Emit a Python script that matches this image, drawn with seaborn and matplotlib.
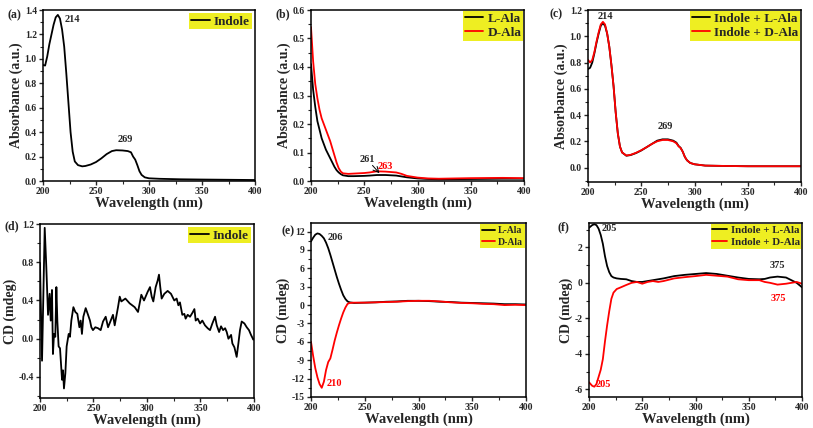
import matplotlib
matplotlib.use("Agg")
import matplotlib.pyplot as plt
import seaborn as sns
from matplotlib.ticker import MultipleLocator, FormatStrFormatter

# ---- data ----
# (a) UV-vis indole
a_wl = [200, 202, 204, 206, 208, 210, 212, 214, 216, 218, 220, 222, 224, 226, 228, 230, 233, 237,
        240, 245, 250, 255, 260, 265, 269, 275, 280, 283, 285, 287, 289, 291, 293, 296, 300, 310,
        330, 350, 375, 400]
a_abs = [0.95, 0.945, 1.02, 1.12, 1.2, 1.28, 1.34, 1.36, 1.33, 1.24, 1.1, 0.88, 0.64, 0.4, 0.24,
         0.16, 0.13, 0.12, 0.123, 0.135, 0.155, 0.185, 0.22, 0.245, 0.252, 0.25, 0.245, 0.235, 0.2,
         0.175, 0.13, 0.08, 0.05, 0.03, 0.022, 0.018, 0.014, 0.012, 0.01, 0.008]

# (b) UV-vis L-Ala / D-Ala
b_wl = [200, 202, 204, 206, 208, 210, 212, 214, 216, 218, 220, 222, 224, 226, 228, 230, 235, 240,
        250, 255, 262, 270, 280, 285, 290, 300, 310, 320, 350, 380, 400]
b_L = [0.41, 0.32, 0.26, 0.21, 0.18, 0.15, 0.13, 0.11, 0.095, 0.08, 0.065, 0.05, 0.038, 0.03, 0.024,
       0.02, 0.017, 0.017, 0.018, 0.019, 0.021, 0.021, 0.019, 0.016, 0.013, 0.009, 0.007, 0.006,
       0.007, 0.008, 0.008]
b_D = [0.54, 0.42, 0.34, 0.29, 0.25, 0.22, 0.2, 0.18, 0.16, 0.14, 0.115, 0.09, 0.065, 0.045, 0.033,
       0.027, 0.025, 0.026, 0.028, 0.03, 0.034, 0.033, 0.03, 0.025, 0.018, 0.012, 0.009, 0.008,
       0.01, 0.011, 0.01]

# (c) UV-vis indole + L-Ala / D-Ala
c_wl = [200, 202, 204, 206, 208, 210, 212, 214, 216, 218, 220, 222, 224, 226, 228, 230, 232, 236,
        240, 245, 250, 255, 260, 265, 270, 275, 280, 283, 285, 287, 289, 291, 293, 296, 300, 310,
        330, 350, 375, 400]
c_L = [0.75, 0.76, 0.8, 0.87, 0.95, 1.02, 1.08, 1.1, 1.08, 1.02, 0.92, 0.78, 0.62, 0.42, 0.26, 0.16,
       0.115, 0.09, 0.095, 0.11, 0.13, 0.155, 0.18, 0.205, 0.215, 0.215, 0.205, 0.19, 0.165, 0.15,
       0.12, 0.08, 0.055, 0.035, 0.025, 0.015, 0.012, 0.01, 0.01, 0.01]
c_D = [0.82, 0.8, 0.82, 0.88, 0.96, 1.03, 1.09, 1.11, 1.09, 1.02, 0.92, 0.78, 0.62, 0.42, 0.26, 0.16,
       0.115, 0.092, 0.097, 0.112, 0.132, 0.155, 0.18, 0.2, 0.21, 0.21, 0.2, 0.185, 0.162, 0.148,
       0.12, 0.08, 0.055, 0.035, 0.025, 0.015, 0.012, 0.01, 0.01, 0.01]

# (d) CD indole (noisy)
d_wl = [200.0, 200.6, 201.9, 204.4, 205.9, 207.5, 209.0, 210.0, 211.2, 212.1, 213.1, 214.3, 215.3,
        216.2, 217.4, 218.7, 220.6, 221.5, 222.4, 223.7, 224.9, 226.8, 228.0, 229.3, 231.2, 233.0,
        234.9, 236.8, 238.0, 239.2, 240.5, 242.7, 244.9, 246.7, 248.0, 249.5, 251.7, 254.2, 256.7,
        258.9, 261.4, 263.6, 266.1, 268.2, 269.8, 272.9, 274.5, 276.0, 279.8, 283.8, 288.5, 291.6,
        294.7, 297.2, 300.6, 302.8, 304.4, 305.9, 308.1, 310.0, 311.2, 312.4, 313.7, 316.2, 319.3,
        322.4, 325.5, 327.7, 329.3, 330.8, 333.0, 334.9, 336.1, 338.0, 340.2, 342.4, 344.3, 345.5,
        347.4, 349.6, 351.7, 354.2, 356.7, 358.9, 361.1, 363.6, 365.2, 367.4, 369.2, 371.1, 373.0,
        374.5, 376.1, 378.6, 379.8, 381.7, 383.8, 385.4, 386.9, 388.5, 391.0, 393.2, 395.3, 397.2,
        399.4, 400.0]
d_cd = [0.79, 0.44, -0.23, 1.16, 0.75, 0.25, 0.47, 0.19, 0.51, -0.16, 0.05, 0.02, 0.54, 0.19,
        -0.08, -0.1, -0.43, -0.33, -0.52, -0.36, -0.08, 0.05, 0.02, 0.19, 0.33, 0.28, 0.26, 0.12,
        0.19, 0.05, 0.23, 0.32, 0.25, 0.19, 0.12, 0.09, 0.12, 0.11, 0.09, 0.18, 0.23, 0.12, 0.19,
        0.25, 0.14, 0.33, 0.44, 0.39, 0.42, 0.37, 0.33, 0.28, 0.46, 0.4, 0.49, 0.54, 0.44, 0.39, 0.54,
        0.61, 0.67, 0.54, 0.42, 0.47, 0.5, 0.47, 0.4, 0.42, 0.35, 0.38, 0.25, 0.26, 0.21, 0.25, 0.23,
        0.27, 0.31, 0.19, 0.21, 0.16, 0.19, 0.14, 0.11, 0.09, 0.16, 0.23, 0.14, 0.07, 0.13, 0.09,
        0.11, 0.07, 0.0, 0.04, -0.05, -0.09, -0.19, -0.05, 0.09, 0.18, 0.16, 0.12, 0.09, 0.04,
        -0.01, 0.0]

# (e) CD L-Ala / D-Ala
e_wl = [200, 202, 204, 206, 208, 210, 212, 214, 216, 218, 220, 222, 224, 226, 228, 230, 232, 234,
        236, 240, 250, 260, 270, 280, 290, 300, 310, 320, 330, 340, 350, 360, 370, 380, 390, 400]
e_L = [10.4, 11.0, 11.5, 11.7, 11.6, 11.3, 10.9, 10.2, 9.3, 8.2, 7.0, 5.8, 4.6, 3.5, 2.5, 1.6, 1.0,
       0.6, 0.45, 0.35, 0.4, 0.45, 0.55, 0.6, 0.7, 0.7, 0.65, 0.55, 0.5, 0.4, 0.35, 0.3, 0.25, 0.15,
       0.15, 0.1]
e_D = [-6.0, -8.3, -10.3, -11.8, -12.9, -13.5, -12.5, -10.6, -9.3, -8.7, -7.3, -5.8, -4.5, -3.3,
       -2.2, -1.2, -0.4, 0.2, 0.35, 0.4, 0.4, 0.45, 0.5, 0.55, 0.65, 0.7, 0.7, 0.6, 0.45, 0.35,
       0.3, 0.2, 0.15, 0.0, 0.05, 0.0]

# (f) CD indole + L-Ala / D-Ala
f_wl = [200, 203, 205, 207, 209, 211, 213, 215, 217, 219, 221, 223, 226, 230, 235, 240, 245, 250,
        255, 260, 265, 270, 280, 290, 300, 310, 320, 330, 340, 350, 360, 365, 370, 377, 385, 390,
        395, 400]
f_L = [3.1, 3.25, 3.3, 3.25, 3.05, 2.7, 2.2, 1.5, 0.95, 0.6, 0.38, 0.3, 0.25, 0.22, 0.2, 0.1, 0.05,
       0.05, 0.1, 0.15, 0.2, 0.25, 0.38, 0.45, 0.5, 0.55, 0.5, 0.4, 0.3, 0.22, 0.2, 0.22, 0.3, 0.35,
       0.3, 0.15, 0.0, -0.25]
f_D = [-5.6, -5.8, -5.85, -5.7, -5.3, -4.9, -4.3, -3.3, -2.4, -1.6, -0.9, -0.55, -0.35, -0.25,
       -0.12, 0.0, 0.05, -0.05, 0.05, 0.1, 0.05, 0.1, 0.25, 0.32, 0.38, 0.45, 0.4, 0.35, 0.2, 0.15,
       0.15, 0.05, 0.0, -0.1, -0.05, 0.0, 0.05, -0.05]

# ---- style ----
sns.set_style("ticks")
plt.rcParams["font.family"] = ["Liberation Serif", "DejaVu Serif"]
plt.rcParams["font.weight"] = "bold"
plt.rcParams["axes.labelweight"] = "bold"
plt.rcParams["axes.unicode_minus"] = False

YELLOW = "#EEEE22"
W, H = 813, 428

fig = plt.figure(figsize=(W / 100, H / 100), dpi=100)


def make_ax(l, r, t, b):
    return fig.add_axes([l / W, 1 - b / H, (r - l) / W, (b - t) / H])


def style(ax, ylab, ylim, ymaj, ymin, fmt):
    ax.set_xlim(200, 400)
    ax.set_ylim(*ylim)
    ax.xaxis.set_major_locator(MultipleLocator(50))
    ax.xaxis.set_minor_locator(MultipleLocator(25))
    ax.yaxis.set_major_locator(MultipleLocator(ymaj))
    ax.yaxis.set_minor_locator(MultipleLocator(ymin))
    ax.yaxis.set_major_formatter(FormatStrFormatter(fmt))
    ax.tick_params(which="major", direction="out", length=3, width=1, labelsize=7, pad=1.5)
    ax.tick_params(which="minor", direction="out", length=2, width=0.8)
    for s in ax.spines.values():
        s.set_linewidth(1.1)
        s.set_color("black")
    ax.set_xlabel("Wavelength (nm)", fontsize=10.5, labelpad=0)
    ax.set_ylabel(ylab, fontsize=10, labelpad=1)


def legend(ax, size, spacing, pad):
    ax.legend(loc="upper right", frameon=True, facecolor=YELLOW, edgecolor="none", framealpha=1,
              fancybox=False, borderpad=0.15, handlelength=1.4, handletextpad=0.3,
              labelspacing=spacing, borderaxespad=pad, prop={"weight": "bold", "size": size})


lw = 1.3

# (a)
ax = make_ax(43, 255, 10, 181)
sns.lineplot(x=a_wl, y=a_abs, color="black", linewidth=lw, label="Indole", ax=ax)
style(ax, "Absorbance (a.u.)", (0, 1.4), 0.2, 0.1, "%.1f")
legend(ax, 9.5, 0.2, 0.25)
ax.text(228, 1.32, "214", fontsize=7.5, ha="center", va="center")
ax.text(278, 0.34, "269", fontsize=7.5, ha="center", va="center")

# (b)
ax = make_ax(311, 524, 10, 181)
sns.lineplot(x=b_wl, y=b_L, color="black", linewidth=lw, label="L-Ala", ax=ax)
sns.lineplot(x=b_wl, y=b_D, color="red", linewidth=lw, label="D-Ala", ax=ax)
style(ax, "Absorbance (a.u.)", (0, 0.6), 0.1, 0.05, "%.1f")
legend(ax, 9.5, 0.15, 0.05)
ax.text(253, 0.077, "261", fontsize=7.5, ha="center", va="center")
ax.text(270, 0.05, "263", fontsize=7.5, ha="center", va="center", color="red")
ax.annotate("", xy=(266, 0.02), xytext=(256, 0.062),
            arrowprops=dict(arrowstyle="->", color="black", lw=0.7))

# (c)
ax = make_ax(588, 801, 10, 182)
sns.lineplot(x=c_wl, y=c_L, color="black", linewidth=lw, label="Indole + L-Ala", ax=ax)
sns.lineplot(x=c_wl, y=c_D, color="red", linewidth=lw, label="Indole + D-Ala", ax=ax)
style(ax, "Absorbance (a.u.)", (-0.11, 1.2), 0.2, 0.1, "%.1f")
legend(ax, 9.5, 0.15, 0.05)
ax.text(216, 1.15, "214", fontsize=7.5, ha="center", va="center")
ax.text(273, 0.31, "269", fontsize=7.5, ha="center", va="center")

# (d)
ax = make_ax(40, 254, 224, 398)
sns.lineplot(x=d_wl, y=d_cd, color="black", linewidth=lw, label="Indole", ax=ax)
style(ax, "CD (mdeg)", (-0.62, 1.2), 0.4, 0.2, "%.1f")
legend(ax, 9.5, 0.2, 0.25)

# (e)
ax = make_ax(311, 526, 223, 397)
sns.lineplot(x=e_wl, y=e_L, color="black", linewidth=lw, label="L-Ala", ax=ax)
sns.lineplot(x=e_wl, y=e_D, color="red", linewidth=lw, label="D-Ala", ax=ax)
style(ax, "CD (mdeg)", (-15, 13.4), 3, 1.5, "%d")
legend(ax, 7, 0.3, 0.15)
ax.text(223, 11.1, "206", fontsize=7.5, ha="center", va="center")
ax.text(222, -12.8, "210", fontsize=7.5, ha="center", va="center", color="red")

# (f)
ax = make_ax(589, 802, 223, 397)
sns.lineplot(x=f_wl, y=f_L, color="black", linewidth=lw, label="Indole + L-Ala", ax=ax)
sns.lineplot(x=f_wl, y=f_D, color="red", linewidth=lw, label="Indole + D-Ala", ax=ax)
style(ax, "CD (mdeg)", (-6.43, 3.37), 2, 1, "%d")
legend(ax, 7.8, 0.25, 0.05)
ax.text(219, 3.07, "205", fontsize=7.5, ha="center", va="center")
ax.text(377, 1.0, "375", fontsize=7.5, ha="center", va="center")
ax.text(378, -0.87, "375", fontsize=7.5, ha="center", va="center", color="red")
ax.text(213, -5.7, "205", fontsize=7.5, ha="center", va="center", color="red")

# panel letters
for lab, px, py in [("(a)", 14, 15), ("(b)", 283, 14), ("(c)", 556, 14),
                    ("(d)", 12, 226), ("(e)", 288, 231), ("(f)", 563, 227)]:
    fig.text(px / W, 1 - py / H, lab, fontsize=8.5, ha="center", va="center")

fig.savefig("out.png", dpi=100)
